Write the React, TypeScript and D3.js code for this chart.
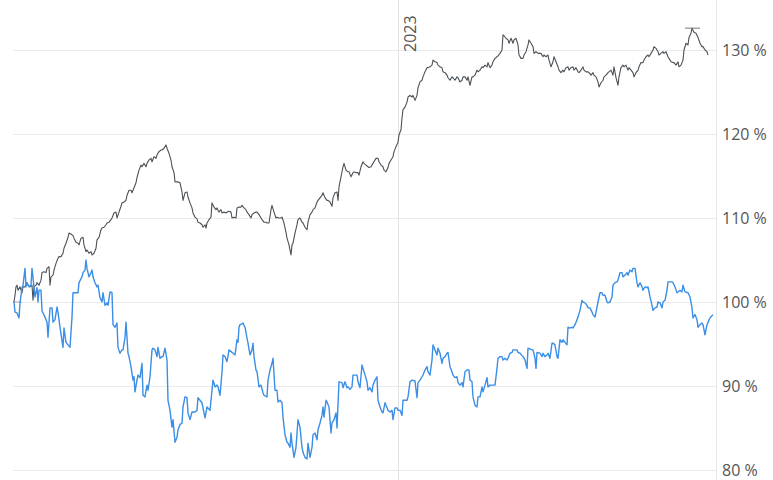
import React from "react";
import * as d3 from "d3";

const START = new Date(2021, 11, 13);
const SPAN_DAYS = 702;
const YEAR_MARK = new Date(2023, 0, 1);
const YEAR_LABEL = "2023";
const yTicks = [80, 90, 100, 110, 120, 130];

const blueDays = [0,1,3,5,6,8,9,11,12,13,15,17,18,20,21,23,24,25,27,28,29,31,33,34,36,38,39,41,43,44,46,49,50,52,54,56,58,59,61,64,65,68,69,71,72,73,75,77,78,79,81,83,84,86,88,89,91,93,94,96,98,99,101,103,104,106,108,109,111,112,114,115,117,119,120,121,123,124,126,128,129,131,133,134,136,138,139,141,143,144,146,148,149,151,153,154,156,158,159,161,163,164,166,168,169,171,173,174,176,178,181,183,184,188,191,193,196,198,199,201,203,204,206,208,209,211,213,215,218,219,221,223,224,225,226,228,229,231,233,234,236,238,239,240,242,243,245,247,249,250,253,254,256,258,259,261,263,264,266,268,269,271,273,274,276,277,278,280,282,284,286,288,289,291,293,294,296,298,299,301,303,304,306,308,309,310,312,313,315,317,318,320,322,323,325,328,329,331,333,334,336,338,339,343,344,346,348,349,351,353,354,356,358,359,361,363,364,366,368,369,371,373,374,376,378,379,381,383,384,386,388,389,393,394,396,398,401,403,404,406,408,409,411,413,414,416,418,419,421,423,424,426,428,429,431,433,434,436,438,439,441,443,444,446,448,449,451,453,455,456,458,459,461,463,464,466,468,469,471,473,474,476,481,483,484,486,488,489,491,493,494,496,498,499,503,504,506,509,511,513,514,518,519,521,522,523,526,528,529,531,533,534,536,538,539,541,543,544,546,548,549,551,553,554,556,558,559,561,563,564,566,568,569,571,573,574,576,578,579,581,583,584,586,588,589,591,593,594,596,598,599,601,603,604,606,608,609,611,613,614,616,618,619,621,623,624,626,628,629,631,633,634,636,638,639,641,643,644,646,648,649,651,653,654,658,659,661,663,664,666,668,669,671,674,676,678,679,681,683,684,686,688,689,691,693,694,696,699];
const blueValues = [100.0,98.8,98.7,98.1,99.9,101.7,102.0,104.0,101.8,102.3,101.8,102.0,104.0,101.8,100.6,101.7,100.0,101.4,101.4,99.0,98.7,98.2,97.6,95.8,99.3,99.3,97.6,97.9,99.4,98.8,97.0,94.6,96.9,95.2,94.9,94.6,98.2,101.1,101.1,101.1,102.3,103.0,103.5,103.8,105.0,104.0,103.0,103.5,103.8,103.0,102.3,101.8,102.0,100.5,100.0,101.1,99.6,99.9,99.6,101.2,101.1,97.3,97.0,97.5,94.6,93.9,94.3,94.3,95.8,97.6,93.9,93.5,92.3,90.7,91.1,89.3,90.7,91.3,91.0,92.7,88.9,88.7,90.1,89.5,91.1,94.3,94.5,94.3,93.5,94.6,93.3,93.5,93.5,94.5,93.1,88.3,87.1,85.1,86.0,83.3,83.9,84.8,85.4,85.6,87.5,88.7,88.6,86.8,86.0,86.9,86.9,87.1,88.6,88.0,86.2,87.5,87.1,89.5,90.7,89.9,90.1,89.9,88.9,91.7,93.7,93.5,92.9,94.3,94.0,93.9,93.7,95.5,95.2,97.0,97.3,97.4,97.5,97.0,95.7,95.1,93.7,94.3,95.1,93.5,91.9,91.7,89.9,90.1,89.2,88.9,88.7,90.7,91.9,92.7,93.3,89.5,89.5,88.1,88.3,88.0,86.3,84.2,83.3,83.2,82.7,84.4,83.2,81.5,82.7,86.0,85.1,82.7,82.1,81.5,81.3,83.2,81.5,82.7,84.2,84.4,83.6,84.8,85.6,86.5,87.5,86.3,88.3,88.1,87.5,84.4,85.6,86.0,86.8,85.0,90.5,90.4,89.8,90.5,89.8,89.9,89.6,89.9,91.3,91.3,90.5,89.8,92.5,92.1,91.3,90.5,89.5,89.8,89.3,90.1,90.7,91.1,88.3,87.5,86.9,86.8,88.0,87.4,87.1,86.9,87.1,86.0,87.4,87.4,87.1,87.1,86.5,88.3,88.3,88.7,90.5,90.7,90.6,88.6,90.4,90.7,91.1,91.3,91.9,92.3,91.7,91.3,93.1,94.9,94.3,93.7,94.5,93.9,92.7,93.3,93.5,93.9,94.0,92.3,91.7,91.3,91.0,91.1,90.4,90.1,90.4,89.9,91.7,91.9,91.9,90.7,90.5,88.7,87.7,87.5,88.7,88.7,89.9,89.3,90.1,91.0,89.9,90.1,90.1,92.1,93.3,93.5,93.5,93.1,93.3,93.1,93.3,93.9,94.0,94.3,94.3,94.0,93.9,93.5,93.1,92.1,94.5,94.3,94.3,93.3,92.1,94.0,93.9,93.5,93.9,93.5,93.7,93.9,93.3,95.1,95.1,94.9,93.5,93.3,95.5,95.2,95.5,95.2,94.9,97.0,96.9,97.0,96.9,97.3,97.9,98.2,99.0,100.2,100.0,99.9,99.6,99.3,99.3,98.8,98.5,98.2,99.4,100.0,101.1,101.1,100.8,100.8,100.0,99.9,100.0,100.6,102.0,102.3,102.4,102.6,103.5,103.5,103.0,103.2,103.5,103.2,103.8,103.6,104.0,104.0,102.3,101.8,102.3,101.8,101.4,101.8,101.7,101.8,100.6,99.6,99.0,99.3,99.4,100.0,99.9,99.3,100.0,100.2,101.4,102.4,102.4,102.3,101.8,101.1,101.2,101.4,101.2,102.0,101.2,101.1,100.6,99.3,98.1,98.5,97.9,97.0,97.3,97.5,97.3,96.1,97.3,97.6,98.1,98.5];

const blackDays = [0,1,2,3,4,6,8,9,11,13,14,16,18,19,20,22,23,25,27,28,30,32,33,35,36,37,39,40,42,44,45,47,49,50,52,54,55,57,59,60,62,64,65,67,69,70,72,73,75,77,78,80,82,83,85,87,88,90,92,93,95,97,98,100,102,103,105,107,108,110,112,113,115,117,118,120,122,123,125,127,128,130,132,133,135,137,138,140,142,143,145,147,148,150,152,153,155,157,158,160,161,163,164,166,168,169,171,173,174,176,178,179,181,183,184,186,188,189,191,192,193,195,197,198,200,202,203,205,207,208,210,212,213,215,217,218,220,222,223,225,227,228,230,232,233,235,237,238,240,242,243,245,247,248,250,252,253,255,257,258,260,262,263,265,267,268,270,272,273,275,276,277,278,279,281,283,284,286,288,289,291,293,294,296,298,299,301,303,304,306,308,309,311,313,314,316,318,319,321,323,324,325,327,329,330,332,334,335,337,339,340,342,344,345,347,349,350,352,354,355,357,359,360,362,364,365,367,369,370,372,374,375,377,379,380,382,384,385,387,388,389,391,393,394,396,398,399,401,403,404,406,408,409,411,413,414,416,418,419,421,423,424,426,428,429,431,433,434,436,438,439,441,443,444,446,448,449,451,453,454,456,458,459,461,463,464,466,468,469,471,473,474,476,478,479,481,483,484,486,488,489,490,492,494,495,497,499,500,502,504,505,507,509,510,512,514,515,517,519,520,522,524,525,527,529,530,532,534,535,537,539,540,542,544,545,547,549,550,552,554,555,557,559,560,562,564,565,567,569,570,572,574,575,577,579,580,582,584,585,587,589,590,592,594,595,597,599,600,602,604,605,607,609,610,612,614,615,617,619,620,622,624,625,627,629,630,632,634,635,637,639,640,642,644,645,647,649,650,652,654,655,657,659,660,662,664,665,667,669,670,672,674,675,677,678,680,682,684,686,688,689,691,693,694];
const blackValues = [100.0,100.8,101.8,102.0,101.4,101.8,101.1,101.8,101.8,102.3,102.0,101.8,102.0,100.2,101.8,102.0,102.3,102.0,102.6,103.5,103.6,103.5,104.0,104.2,102.0,103.0,103.2,103.8,104.6,105.2,105.4,105.4,105.8,106.4,107.0,107.7,108.2,108.1,107.9,107.6,107.1,107.0,106.8,107.6,107.7,106.8,106.0,106.2,105.8,106.0,105.6,105.8,106.4,107.4,107.7,108.6,108.8,108.9,109.2,109.4,109.5,109.8,110.0,110.6,110.7,110.0,110.7,111.4,111.8,111.9,112.1,112.7,113.3,113.3,113.0,113.6,114.2,114.8,115.7,116.3,116.1,116.5,116.1,116.5,116.9,117.1,116.7,117.3,117.1,117.5,117.9,118.1,118.1,118.3,118.7,118.3,117.7,116.9,116.1,115.4,114.3,114.3,114.3,114.2,113.1,112.1,113.0,113.1,112.5,111.8,111.2,110.6,110.1,109.9,109.5,109.4,109.2,108.9,109.2,108.8,109.4,109.8,110.1,111.8,111.3,111.0,111.2,110.7,111.0,110.6,110.7,110.6,110.7,110.8,110.7,110.0,110.1,110.0,111.2,111.3,111.3,111.5,111.2,111.0,110.7,110.4,110.0,110.4,110.6,110.7,110.7,110.4,110.0,109.8,109.5,109.5,109.4,109.4,111.0,111.5,110.7,110.0,110.1,110.0,110.0,110.1,109.4,108.3,107.6,106.8,106.2,105.6,106.8,107.0,108.2,109.2,109.8,110.0,109.5,109.4,108.9,108.6,109.5,110.4,110.7,111.0,111.2,111.9,112.1,112.4,112.7,113.0,112.4,112.1,112.1,111.9,111.4,112.4,113.0,113.1,112.1,113.7,114.9,116.1,116.5,115.7,115.5,115.5,114.9,115.4,115.5,115.4,115.4,115.1,116.1,116.7,116.5,116.3,116.1,116.0,116.1,116.5,116.7,117.1,117.1,116.7,116.3,116.1,115.7,115.5,116.0,116.5,116.9,117.3,117.9,118.5,119.0,119.9,120.5,121.9,122.9,123.2,123.8,124.4,124.6,124.4,124.6,124.0,124.6,125.5,126.2,126.4,126.8,127.4,127.9,127.9,128.0,128.2,128.8,128.6,128.5,128.2,128.0,127.9,127.4,127.3,127.0,126.7,126.4,126.8,126.7,126.4,126.8,126.7,126.2,126.4,126.8,126.8,126.4,126.8,125.8,126.8,126.8,127.0,127.6,127.4,127.6,128.0,127.9,128.2,128.0,128.5,127.9,128.2,128.6,129.0,129.2,129.3,129.6,130.0,131.8,131.7,131.4,131.2,130.8,131.4,130.8,131.2,131.4,130.6,129.4,129.0,129.0,129.4,129.8,130.6,131.2,130.8,130.4,129.6,129.8,129.6,129.6,129.6,129.2,129.4,129.2,129.4,128.8,128.0,128.6,129.2,128.6,128.0,127.6,127.3,127.6,127.4,127.9,128.0,127.6,127.9,128.0,127.6,127.9,127.4,127.3,127.6,128.0,127.6,127.4,127.4,127.3,127.0,127.3,127.0,126.8,126.2,125.6,126.1,126.4,126.8,127.0,127.3,127.4,127.6,127.0,128.0,126.7,125.8,126.8,127.9,128.2,128.0,128.2,127.6,127.9,127.6,127.3,126.8,127.3,127.6,128.0,128.5,128.5,128.8,129.2,129.4,129.2,129.6,130.0,130.4,130.2,129.8,129.4,129.6,129.8,129.6,129.8,129.2,129.0,128.6,128.5,128.5,128.2,128.6,128.0,128.2,128.8,130.0,130.8,130.6,131.5,132.0,132.6,132.1,132.0,131.5,130.8,130.4,130.4,130.0,129.8,129.4];

const W = 773;
const H = 480;
const PLOT_LEFT = 14;
const PLOT_RIGHT = 716;
const BLUE = "#3a8ee6";
const DARK = "#4b5157";

type Pt = { date: Date; value: number };

function makeSeries(days: number[], values: number[]): Pt[] {
  return days.map((d, i) => ({ date: d3.timeDay.offset(START, d), value: values[i] }));
}

export default function App() {
  const x = d3
    .scaleTime()
    .domain([START, d3.timeDay.offset(START, SPAN_DAYS)])
    .range([PLOT_LEFT, PLOT_RIGHT]);
  const y = d3.scaleLinear().domain([80, 130]).range([470, 50]);

  const blue = makeSeries(blueDays, blueValues);
  const dark = makeSeries(blackDays, blackValues);

  const line = d3
    .line<Pt>()
    .x((p) => x(p.date))
    .y((p) => y(p.value));

  const maxPt = dark.reduce((a, b) => (b.value > a.value ? b : a), dark[0]);
  const startX = x(START);
  const yearX = Math.round(x(YEAR_MARK)) + 0.5;

  return (
    <svg
      width={W}
      height={H}
      style={{ position: "absolute", left: 0, top: 0, fontFamily: "'Open Sans', sans-serif" }}
    >
      <rect x={0} y={0} width={W} height={H} fill="#ffffff" />
      {yTicks.map((t) => (
        <line
          key={t}
          x1={PLOT_LEFT - 1}
          x2={PLOT_RIGHT}
          y1={Math.round(y(t)) + 0.5}
          y2={Math.round(y(t)) + 0.5}
          stroke="#ebebeb"
          strokeWidth={1}
        />
      ))}
      <line x1={PLOT_RIGHT + 0.5} x2={PLOT_RIGHT + 0.5} y1={0} y2={H} stroke="#e6e6e6" strokeWidth={1} />
      <line x1={yearX} x2={yearX} y1={0} y2={H} stroke="#e3e3e3" strokeWidth={1} />
      <text
        transform={`translate(${yearX + 17},52) rotate(-90)`}
        fontSize={16}
        fill="#555"
        textAnchor="start"
      >
        {YEAR_LABEL}
      </text>
      {yTicks.map((t) => (
        <text key={t} x={722} y={y(t)} dy="0.36em" fontSize={16} fill="#555">
          {`${t} %`}
        </text>
      ))}
      <line
        x1={startX - 1}
        x2={startX + 8}
        y1={y(100)}
        y2={y(100)}
        stroke="#aaaaaa"
        strokeWidth={1}
      />
      <path d={line(dark) ?? ""} fill="none" stroke={DARK} strokeWidth={1.1} strokeLinejoin="round" />
      <path d={line(blue) ?? ""} fill="none" stroke={BLUE} strokeWidth={1.4} strokeLinejoin="round" />
      <line
        x1={x(maxPt.date) - 7}
        x2={x(maxPt.date) + 8}
        y1={y(maxPt.value)}
        y2={y(maxPt.value)}
        stroke="#777"
        strokeWidth={1}
      />
    </svg>
  );
}
